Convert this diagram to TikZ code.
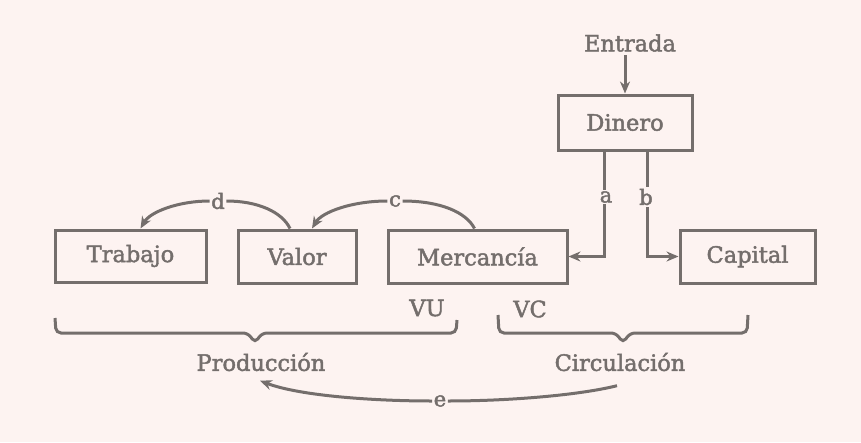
\documentclass[tikz,border=0pt]{standalone}
\usepackage{fontspec}
\setmainfont{DejaVu Serif}
\newfontfamily\boxfont[FakeBold=2]{DejaVu Serif}
\usetikzlibrary{arrows.meta,calc}
\definecolor{bg}{RGB}{253,243,241}
\definecolor{ink}{RGB}{116,110,108}
\tikzset{
  box/.style={draw=ink,line width=3pt,inner sep=0pt,text=ink,font=\boxfont\fontsize{22.5}{24}\selectfont},
  lab/.style={fill=bg,inner sep=1.5pt,text=ink,font=\boxfont\fontsize{21}{22}\selectfont},
  captext/.style={text=ink,font=\boxfont\fontsize{22.5}{24}\selectfont},
  conn/.style={draw=ink,line width=3pt},
  arr/.style={conn,-{Stealth[length=12pt,width=10pt]}}
}
\begin{document}
\begin{tikzpicture}[x=1pt,y=-1pt]
\fill[bg] (0,0) rectangle (861,442);
\useasboundingbox (0,0) rectangle (861,442);
% nodes
\node[captext] (entrada) at (630,43) {Entrada};
\node[box,minimum width=134pt,minimum height=55pt] (dinero) at (625,122.5) {Dinero};
\node[box,minimum width=151pt,minimum height=52pt] (trabajo) at (130.5,256) {Trabajo};
\node[box,minimum width=118pt,minimum height=53pt] (valor) at (297,256.5) {Valor};
\node[box,minimum width=179pt,minimum height=53pt] (merc) at (477.5,256.5) {Mercancía};
\node[box,minimum width=135pt,minimum height=53pt] (capital) at (747.5,256.5) {Capital};
\node[captext] (vu) at (427,308) {VU};
\node[captext] (vc) at (530,309) {VC};
\node[captext] (prod) at (261,362) {Producción};
\node[captext] (circ) at (620,362) {Circulación};
% Entrada arrow
\draw[arr] (entrada.south -| dinero.north) -- (dinero.north);
% a and b
\coordinate (aTop) at ($(dinero.south west)+(48,0)$);
\coordinate (bTop) at ($(dinero.south east)+(-46,0)$);
\draw[arr] (aTop) |- (merc.east);
\draw[arr] (bTop) |- (capital.west);
\node[lab] (a) at (606,197) {a};
\node[lab] (b) at (646,197) {b};
% c
\node[lab] (c) at (395,201) {c};
\draw[conn] ($(merc.north)+(-3,0)$) .. controls (466,212) and (440,201) .. (c.east);
\draw[arr] (c.west) .. controls (352,201) and (322,212) .. ($(valor.north)+(15,0)$);
% d
\node[lab] (d) at (218,201) {d};
\draw[conn] ($(valor.north)+(-7,0)$) .. controls (282,212) and (258,201) .. (d.east);
\draw[arr] (d.west) .. controls (178,201) and (150,212) .. ($(trabajo.north)+(10,0)$);
% braces
\draw[conn,rounded corners=5pt] (55,318) -- (56,333) -- (248,333) -- (255,343) -- (262,333) -- (456,333) -- (457,320);
\draw[conn,rounded corners=5pt] (498,315) -- (499,333) -- (616,333) -- (623,343) -- (630,333) -- (747,333) -- (748,315);
% e
\node[lab] (e) at (440,401) {e};
\draw[conn] ($(circ.south)+(-3,11)$) .. controls (580,395) and (510,401) .. (e.east);
\draw[arr] (e.west) .. controls (375,401) and (300,396) .. ($(prod.south)+(-1,6)$);
\end{tikzpicture}
\end{document}
